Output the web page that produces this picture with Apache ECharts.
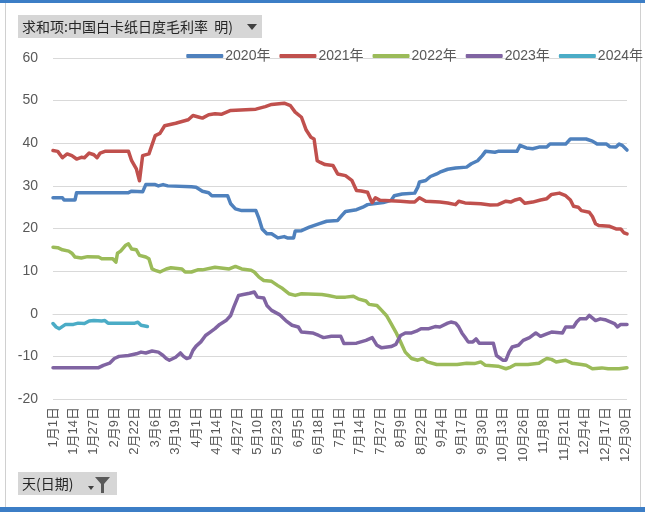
<!DOCTYPE html>
<html><head><meta charset="utf-8">
<script src="https://cdn.jsdelivr.net/npm/echarts@6/dist/echarts.min.js"></script>
<style>html,body{margin:0;padding:0;background:#fff}#c{width:645px;height:512px}</style>
</head><body><div id="c"></div>
<script>
// month lengths of the (leap-year) day axis
const monthDays = [31,29,31,30,31,30,31,31,30,31,30,31];
const seriesNames = ['2020年','2021年','2022年','2023年','2024年'];
const yTicks = [-20,-10,0,10,20,30,40,50,60];
// [day index, value] breakpoints
const s2020 = [[0,27.2],[6,27.2],[7,26.7],[14,26.7],[15,28.4],[48,28.4],[50,28.75],[57,28.6],[59,30.3],[65,30.3],[67,30],[70,30.3],[73,30],[88,29.8],[91,29.7],[95,28.75],[99,28.4],[101,27.7],[111,27.7],[113,25.8],[116,24.6],[120,24.2],[129,24.2],[131,22.3],[133,19.9],[136,18.75],[139,18.75],[143,17.8],[147,18.1],[149,17.8],[153,17.8],[154,19.4],[158,19.5],[163,20.3],[169,21.1],[174,21.7],[181,21.9],[182,22.2],[184,23.2],[186,24],[193,24.4],[197,25],[200,25.6],[210,26.1],[215,26.6],[217,27.7],[222,28.1],[230,28.3],[232,29.7],[233,30.9],[237,31.25],[240,32.2],[244,32.8],[246,33.2],[251,33.9],[256,34.2],[263,34.4],[266,35.2],[270,35.9],[273,37.1],[275,38.1],[281,37.9],[283,38.1],[295,38.1],[297,39.5],[301,38.9],[305,38.7],[309,39.1],[314,39.1],[316,39.8],[326,39.8],[327,39.5],[329,41],[339,41],[343,40.5],[346,39.8],[352,39.8],[354,39.2],[358,39.1],[360,39.8],[362,39.5],[365,38.4]];
const s2021 = [[0,38.3],[3,38.1],[6,36.6],[9,37.5],[12,37.1],[15,36.3],[18,36.7],[20,36.6],[23,37.7],[26,37.3],[28,36.6],[30,37.7],[33,38.1],[48,38.1],[50,35.9],[53,34],[55,31.2],[57,37.1],[61,37.5],[65,41.8],[68,42.3],[71,44.1],[78,44.7],[86,45.5],[89,46.5],[93,46.1],[95,45.9],[99,46.7],[103,46.9],[107,46.8],[113,47.7],[129,48],[135,48.6],[139,49.1],[147,49.4],[151,48.8],[154,47.3],[158,46.1],[161,43.1],[164,41.4],[166,41],[168,35.9],[170,35.5],[173,35],[178,34.8],[181,32.8],[186,32.4],[190,31.3],[193,28.9],[196,28.8],[200,28.5],[202,26.7],[203,26.1],[205,27.2],[208,26.6],[221,26.4],[227,26.2],[230,26.2],[233,27.2],[237,26.4],[246,26.2],[251,26],[256,25.6],[258,26.4],[262,26],[272,25.8],[278,25.5],[283,25.6],[288,26.4],[291,26.2],[294,26.7],[297,27],[300,25.9],[305,26.2],[310,26.7],[314,27],[317,28],[322,28.3],[326,27.7],[329,26.7],[331,25.2],[334,25],[336,24.2],[341,23.8],[343,22.8],[345,21.1],[347,20.7],[354,20.5],[358,19.9],[361,19.9],[363,19],[365,18.75]];
const s2022 = [[0,15.6],[3,15.5],[6,15],[10,14.7],[12,14.2],[14,13.3],[18,13.1],[22,13.4],[29,13.3],[31,12.9],[38,12.9],[40,12.1],[41,14.2],[43,14.7],[46,16],[48,16.4],[50,15.2],[53,15],[55,13.7],[59,13.3],[61,12.9],[63,10.5],[65,10.2],[68,9.8],[72,10.5],[75,10.8],[82,10.5],[84,9.8],[88,9.8],[92,10.3],[95,10.3],[103,10.9],[112,10.5],[116,11.1],[120,10.5],[126,10.2],[128,9.8],[131,8.6],[134,7.8],[139,7.6],[143,6.6],[146,5.9],[150,4.7],[154,4.3],[158,4.7],[171,4.5],[175,4.3],[180,3.9],[186,3.9],[191,4.1],[194,3.5],[199,3],[201,2.2],[206,1.95],[209,0.8],[212,-0.4],[215,-2.3],[218,-4.3],[221,-6.6],[224,-9],[228,-10.5],[232,-10.9],[235,-10.5],[238,-11.3],[244,-11.9],[257,-11.9],[263,-11.6],[268,-11.7],[272,-11.3],[275,-12.1],[283,-12.3],[288,-12.9],[291,-12.5],[294,-11.9],[302,-11.9],[309,-11.6],[312,-10.9],[314,-10.5],[317,-10.7],[320,-11.3],[326,-10.9],[330,-11.6],[336,-11.9],[339,-12.1],[343,-12.9],[349,-12.7],[353,-12.9],[360,-12.9],[365,-12.65]];
const s2023 = [[0,-12.65],[29,-12.65],[32,-12.1],[36,-11.6],[39,-10.5],[42,-10],[48,-9.8],[53,-9.4],[56,-9],[59,-9.2],[63,-8.75],[67,-9],[70,-9.8],[72,-10.5],[74,-10.9],[78,-10.2],[81,-9.2],[83,-10],[85,-10.5],[87,-10.3],[89,-8.6],[91,-7.6],[94,-6.6],[97,-5.1],[100,-4.3],[103,-3.5],[106,-2.5],[110,-1.6],[113,-0.4],[115,1.6],[118,4.3],[121,4.5],[125,4.8],[128,5.1],[129,4.9],[130,3.9],[134,3.7],[136,1.95],[139,0.8],[144,-0.2],[148,-1.6],[152,-2.7],[156,-3.1],[158,-4.3],[165,-4.5],[169,-5.1],[172,-5.6],[177,-5.3],[183,-5.3],[185,-7],[193,-6.9],[199,-6.25],[203,-5.6],[206,-7.4],[209,-8],[215,-7.7],[218,-7.2],[221,-5.1],[224,-4.5],[228,-4.5],[231,-4.1],[234,-3.5],[239,-3.5],[243,-3],[246,-3.1],[251,-2.2],[253,-1.95],[256,-2.2],[258,-3.1],[260,-4.5],[262,-5.5],[264,-6.6],[267,-6.6],[269,-5.9],[271,-6.9],[280,-6.9],[282,-9.8],[286,-10.9],[288,-10.9],[290,-9],[292,-7.8],[296,-7.4],[299,-6.25],[303,-5.6],[307,-4.5],[310,-5.3],[314,-4.7],[317,-4.3],[324,-4.5],[326,-3.1],[331,-3.1],[333,-1.95],[335,-1.2],[339,-1.2],[341,-0.4],[345,-1.6],[348,-1.2],[351,-1.4],[357,-2.3],[359,-3.1],[361,-2.5],[365,-2.5]];
const s2024 = [[0,-2.3],[2,-3.1],[4,-3.5],[8,-2.5],[13,-2.5],[16,-2.2],[20,-2.3],[23,-1.7],[26,-1.6],[31,-1.7],[33,-1.6],[35,-2.2],[52,-2.2],[54,-2],[56,-2.7],[60,-3]];
const colors = ['#4F81BD','#C0504D','#9BBB59','#8064A2','#4BACC6'];

const categories = [];
monthDays.forEach((n, m) => { for (let d = 1; d <= n; d++) categories.push((m + 1) + '月' + d + '日'); });

const FONT = '"Liberation Sans","Noto Sans CJK SC",sans-serif';
const chart = echarts.init(document.getElementById('c'), null, {renderer: 'canvas'});
const allData = [s2020, s2021, s2022, s2023, s2024];
chart.setOption({
  animation: false,
  color: colors,
  textStyle: {fontFamily: FONT},
  grid: {left: 53, right: 18, top: 58, bottom: 113, containLabel: false},
  legend: {
    right: 0, top: 44, padding: [5, 2, 5, 5], icon: 'roundRect', itemWidth: 37, itemHeight: 4, itemGap: 9,
    textStyle: {fontSize: 14, color: '#595959', fontFamily: FONT, padding: [0, 0, 0, -3]},
    data: seriesNames
  },
  xAxis: {
    type: 'category', data: categories, boundaryGap: false,
    axisLine: {lineStyle: {color: '#D9D9D9'}}, axisTick: {show: false},
    axisLabel: {interval: 12, rotate: 90, fontSize: 13, color: '#595959', margin: 8, fontFamily: FONT},
    splitLine: {show: false}
  },
  yAxis: {
    type: 'value', min: yTicks[0], max: yTicks[yTicks.length - 1], interval: 10,
    axisLine: {show: false}, axisTick: {show: false},
    axisLabel: {fontSize: 14, color: '#595959', margin: 15, fontFamily: FONT},
    splitLine: {lineStyle: {color: '#D9D9D9', width: 1}}
  },
  series: seriesNames.map((name, i) => ({
    name, type: 'line', data: allData[i], showSymbol: false, symbol: 'none',
    lineStyle: {width: 3.5, color: colors[i], cap: 'round', join: 'round'}
  })),
  graphic: [
    {type: 'rect', shape: {x: 0, y: 0, width: 645, height: 3}, style: {fill: '#3C7EC6'}, silent: true},
    {type: 'rect', shape: {x: 0, y: 507, width: 645, height: 5}, style: {fill: '#3C7EC6'}, silent: true},
    {type: 'line', shape: {x1: 5.5, y1: 3, x2: 5.5, y2: 507}, style: {stroke: '#D0D0D0', lineWidth: 1}, silent: true},
    {type: 'line', shape: {x1: 640.5, y1: 3, x2: 640.5, y2: 507}, style: {stroke: '#D0D0D0', lineWidth: 1}, silent: true},
    {type: 'rect', shape: {x: 18, y: 15, width: 244, height: 23}, style: {fill: '#D6D6D6'}, silent: true},
    {type: 'text', x: 22, y: 26.5, style: {text: '求和项:中国白卡纸日度毛利率  明)', font: '14px "Noto Sans CJK SC"', fill: '#262626', textVerticalAlign: 'middle'}, silent: true},
    {type: 'polygon', shape: {points: [[247, 24], [257, 24], [252, 30]]}, style: {fill: '#404040'}, silent: true},
    {type: 'rect', shape: {x: 18, y: 472, width: 99, height: 23}, style: {fill: '#D6D6D6'}, silent: true},
    {type: 'text', x: 22, y: 483.5, style: {text: '天(日期)', font: '14px "Noto Sans CJK SC"', fill: '#262626', textVerticalAlign: 'middle'}, silent: true},
    {type: 'polygon', shape: {points: [[88, 486], [94, 486], [91, 490]]}, style: {fill: '#404040'}, silent: true},
    {type: 'polygon', shape: {points: [[95, 477], [110, 477], [104, 484], [104, 493], [101, 493], [101, 484]]}, style: {fill: '#595959'}, silent: true}
  ]
});
</script></body></html>
